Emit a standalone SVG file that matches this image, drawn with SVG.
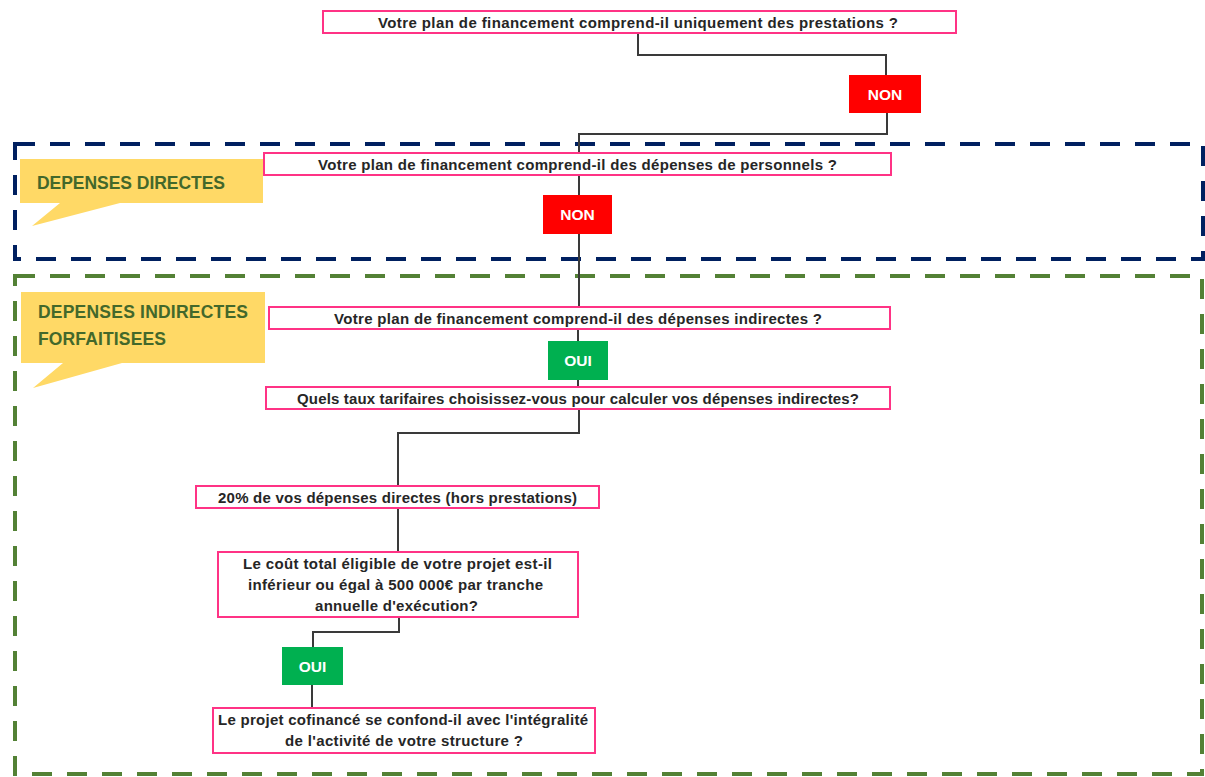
<svg xmlns="http://www.w3.org/2000/svg" width="1205" height="777" viewBox="0 0 1205 777">
<style>
.box{fill:#fff;stroke:#ff3385;stroke-width:2}
.t{font-family:"Liberation Sans",Arial,sans-serif;font-weight:bold;font-size:15px;fill:#262626;text-anchor:middle}
.non{fill:#ff0000}
.oui{fill:#00b050}
.lbl{font-family:"Liberation Sans",Arial,sans-serif;font-weight:bold;font-size:15.5px;fill:#fff;text-anchor:middle}
.call{fill:#ffd966}
.ct{font-family:"Liberation Sans",Arial,sans-serif;font-weight:bold;font-size:17.5px;fill:#43682b}
.conn{fill:none;stroke:#3a3a3a;stroke-width:2}
</style>
<rect width="1205" height="777" fill="#fff"/>
<g id="zone-directes">
<rect x="15" y="144" width="1188" height="115" fill="none" stroke="#002060" stroke-width="4" stroke-dasharray="20 15"/>
</g>
<g id="zone-indirectes">
<rect x="15" y="276" width="1187" height="498" fill="none" stroke="#538135" stroke-width="4" stroke-dasharray="20 15"/>
</g>
<g id="callout-directes">
<path class="call" d="M20 159 H263 V203 H120 L32 226 L60 203 H20 Z"/>
<text class="ct" x="37" y="189" textLength="188" lengthAdjust="spacing">DEPENSES DIRECTES</text>
</g>
<g id="callout-indirectes">
<path class="call" d="M21 292 H265 V363 H122 L33 388 L63 363 H21 Z"/>
<text class="ct" x="38" y="318" textLength="210" lengthAdjust="spacing">DEPENSES INDIRECTES</text>
<text class="ct" x="38" y="345" textLength="128" lengthAdjust="spacing">FORFAITISEES</text>
</g>
<g id="connectors">
<path class="conn" d="M638 33 V55 H886 V75"/>
<path class="conn" d="M887 113 V134 H579 V153"/>
<path class="conn" d="M579 175 V195"/>
<path class="conn" d="M579 234 V307"/>
<path class="conn" d="M578 329 V341"/>
<path class="conn" d="M578 380 V387"/>
<path class="conn" d="M579 409 V433 H398 V486"/>
<path class="conn" d="M398 508 V552"/>
<path class="conn" d="M399 617 V632 H313 V647"/>
<path class="conn" d="M312 685 V708"/>
</g>
<g id="n1">
<rect class="box" x="323" y="11" width="633" height="22"/>
<text class="t" x="638" y="27.5" textLength="520" lengthAdjust="spacing">Votre plan de financement comprend-il uniquement des prestations ?</text>
</g>
<g id="non1">
<rect class="non" x="849" y="75" width="72" height="38"/>
<text class="lbl" x="885" y="99.5">NON</text>
</g>
<g id="n2">
<rect class="box" x="264" y="153" width="627" height="22"/>
<text class="t" x="577.5" y="169.5" textLength="519" lengthAdjust="spacing">Votre plan de financement comprend-il des dépenses de personnels ?</text>
</g>
<g id="non2">
<rect class="non" x="543" y="195" width="69" height="39"/>
<text class="lbl" x="577.5" y="220">NON</text>
</g>
<g id="n3">
<rect class="box" x="269" y="307" width="621" height="22"/>
<text class="t" x="578" y="323.5" textLength="488" lengthAdjust="spacing">Votre plan de financement comprend-il des dépenses indirectes ?</text>
</g>
<g id="oui1">
<rect class="oui" x="548" y="341" width="60" height="39"/>
<text class="lbl" x="578" y="366">OUI</text>
</g>
<g id="n4">
<rect class="box" x="266" y="387" width="624" height="22"/>
<text class="t" x="578" y="403.5" textLength="562" lengthAdjust="spacing">Quels taux tarifaires choisissez-vous pour calculer vos dépenses indirectes?</text>
</g>
<g id="n5">
<rect class="box" x="196" y="486" width="403" height="22"/>
<text class="t" x="397.5" y="502.5" textLength="359" lengthAdjust="spacing">20% de vos dépenses directes (hors prestations)</text>
</g>
<g id="n6">
<rect class="box" x="218" y="552" width="360" height="65"/>
<text class="t" x="397.5" y="568.5" textLength="309" lengthAdjust="spacing">Le coût total éligible de votre projet est-il</text>
<text class="t" x="395.5" y="589.5" textLength="295" lengthAdjust="spacing">inférieur ou égal à 500 000€ par tranche</text>
<text class="t" x="396.5" y="611" textLength="163" lengthAdjust="spacing">annuelle d'exécution?</text>
</g>
<g id="oui2">
<rect class="oui" x="282" y="647" width="61" height="38"/>
<text class="lbl" x="312.5" y="671.5">OUI</text>
</g>
<g id="n7">
<rect class="box" x="213" y="708" width="382" height="45"/>
<text class="t" x="403" y="724.5" textLength="370" lengthAdjust="spacing">Le projet cofinancé se confond-il avec l'intégralité</text>
<text class="t" x="404" y="746" textLength="238" lengthAdjust="spacing">de l'activité de votre structure ?</text>
</g>
</svg>
